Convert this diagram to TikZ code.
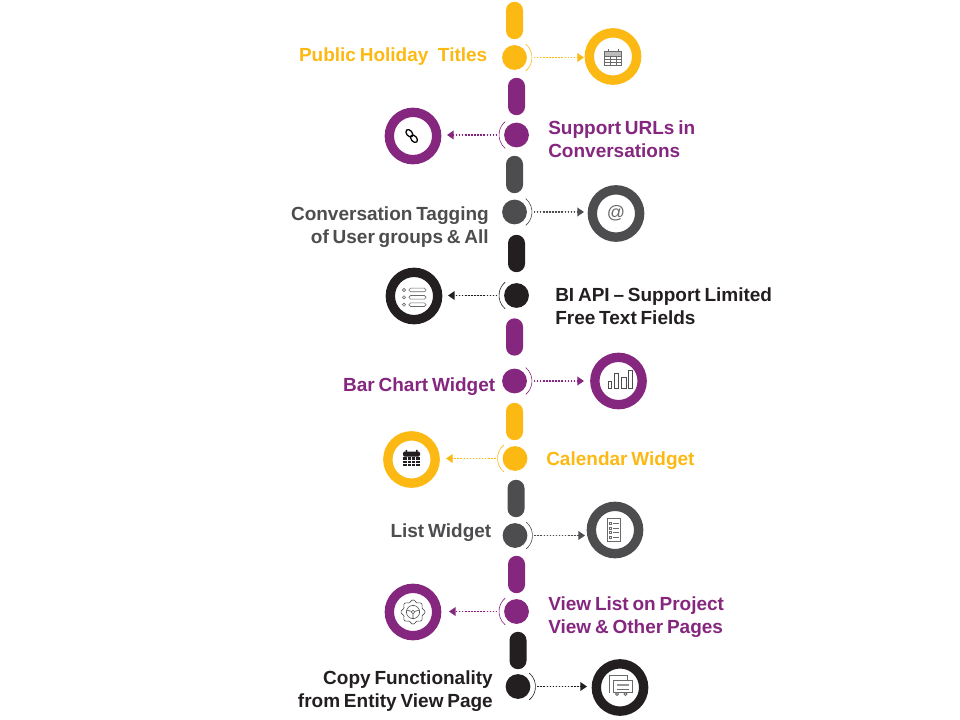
\documentclass[tikz,border=0pt]{standalone}
\usepackage{xcolor}
\usepackage{fontspec}
\setmainfont{Liberation Sans}[WordSpace=0.72]
\usetikzlibrary{calc}
\usetikzlibrary{arrows.meta}
\definecolor{tyellow}{HTML}{FDB913}
\definecolor{tpurple}{HTML}{85267F}
\definecolor{tgray}{HTML}{4D4D4F}
\definecolor{tdark}{HTML}{231F20}
\definecolor{ticon}{HTML}{6A6A6A}
\tikzset{
	pill/.style={rectangle,rounded corners=6.3pt,minimum width=12.75pt,minimum height=28pt,inner sep=0pt},
	dot/.style={circle,minimum size=18.6pt,inner sep=0pt},
	ring/.style={circle,draw,line width=7pt,fill=white,minimum size=35.5pt,inner sep=0pt},
	link/.style={dash pattern=on 1.1pt off 1.2pt,line width=1.1pt,shorten <=5pt,-{Triangle[length=5pt,width=6.5pt]}},
	bow/.style={line width=0.45pt},
	title/.style={font=\fontsize{14.25pt}{17.25pt}\selectfont\bfseries,inner sep=0pt},
	icon/.style={line width=0.45pt,draw=ticon},
}
\begin{document}
\begin{tikzpicture}[x=0.75pt,y=-0.75pt]
	\useasboundingbox (0,0) rectangle (960,720);
	\foreach \i/\x/\y/\col in {1/514.5/20.5/tyellow,2/516.5/96.5/tpurple,3/514.5/174.5/tgray,4/516.5/253.5/tdark,5/514.5/337/tpurple,6/514.5/421.5/tyellow,7/516/498.5/tgray,8/516.5/574.5/tpurple,9/518/650.5/tdark}
		\node[pill,fill=\col] (pill\i) at (\x,\y) {};
	\foreach \i/\x/\y/\tx/\col in {1/514.5/57.5/584/tyellow,3/514.5/212/584/tgray,5/514.5/381/584/tpurple,7/515/535.5/585/tgray,9/518/686.5/587/tdark}{
		\node[dot,fill=\col] (dot\i) at (\x,\y) {};
		\coordinate (tip\i) at (\tx,\y);
		\draw[link,draw=\col,fill=\col] (dot\i) -- (tip\i);
		\draw[bow,\col] ($(dot\i)+(-50:17.5)$) arc[start angle=-50,end angle=50,radius=17.5];
	}
	\foreach \i/\x/\y/\tx/\col in {2/516.5/135/447/tpurple,4/516.5/295.5/448/tdark,6/515/458.5/446/tyellow,8/516.5/611.5/449/tpurple}{
		\node[dot,fill=\col] (dot\i) at (\x,\y) {};
		\coordinate (tip\i) at (\tx,\y);
		\draw[link,draw=\col,fill=\col] (dot\i) -- (tip\i);
		\draw[bow,\col] ($(dot\i)+(130:17.5)$) arc[start angle=130,end angle=230,radius=17.5];
	}
	\node[ring,draw=tyellow] (ring1) at (613,56.5) {};
	\node[ring,draw=tpurple] (ring2) at (413,136) {};
	\node[ring,draw=tgray,text=ticon,font=\fontsize{13.5pt}{13.5pt}\selectfont] (ring3) at (616,213.5) {@};
	\node[ring,draw=tdark] (ring4) at (414,296) {};
	\node[ring,draw=tpurple] (ring5) at (618.5,381) {};
	\node[ring,draw=tyellow] (ring6) at (411.5,459.5) {};
	\node[ring,draw=tgray] (ring7) at (615,530) {};
	\node[ring,draw=tpurple] (ring8) at (413,612) {};
	\node[ring,draw=tdark] (ring9) at (620,687.5) {};
	\node[title,tyellow,anchor=east] (text1) at (487.5,56.5) {Public Holiday\hspace{0.3em} Titles};
	\node[title,tpurple,anchor=west,align=left] (text2) at (548,139.5) {Support URLs in\\Conversations};
	\node[title,tgray,anchor=east,align=right] (text3) at (489,227) {Conversation Tagging\\of User groups \& All};
	\node[title,tdark,anchor=west,align=left] (text4) at (555,306.5) {BI API -- Support Limited\\Free Text Fields};
	\node[title,tpurple,anchor=east] (text5) at (495.5,386.5) {Bar Chart Widget};
	\node[title,tyellow,anchor=west] (text6) at (546,460.5) {Calendar Widget};
	\node[title,tgray,anchor=east] (text7) at (491.5,532.5) {List Widget};
	\node[title,tpurple,anchor=west,align=left] (text8) at (548,617) {View List on Project\\View \& Other Pages};
	\node[title,tdark,anchor=east,align=right] (text9) at (493,691.5) {Copy Functionality\\from Entity View Page};
	\begin{scope}[shift={(ring1.center)},icon]
		\fill[ticon!45] (-8.3,-5) rectangle (8.3,-0.5);
		\draw (-8.3,-5) rectangle (8.3,8.5);
		\draw (-8.3,-0.5) -- (8.3,-0.5) (-8.3,2.5) -- (8.3,2.5) (-8.3,5.5) -- (8.3,5.5);
		\draw (-2.8,-0.5) -- (-2.8,8.5) (2.8,-0.5) -- (2.8,8.5);
		\draw (-5,-7) -- (-5,-4) (5,-7) -- (5,-4);
	\end{scope}
	\begin{scope}[shift={(ring2.center)},xshift=-1,line width=0.95pt,draw=black]
		\draw[rotate=-50] (-3.6,0) ellipse (4.2 and 2.8);
		\draw[rotate=-50] (3.6,0) ellipse (4.2 and 2.8);
	\end{scope}
	\begin{scope}[shift={(ring4.center)},icon]
		\foreach \y in {-6,1.3,8.7}{
			\draw (-10,\y) circle (1.6);
			\draw[rounded corners=1.2] (-5,\y-1.8) rectangle (12,\y+1.8);
		}
	\end{scope}
	\begin{scope}[shift={(ring5.center)},icon,draw=tgray]
		\draw (-10.2,0.7) rectangle (-6.8,7.3);
		\draw (-4.5,-8) rectangle (-0.2,7.3);
		\draw (3.2,-3.3) rectangle (7.5,7.3);
		\draw (9.5,-11) rectangle (13.5,7.3);
	\end{scope}
	\begin{scope}[shift={(ring6.center)},fill=tdark]
		\fill[rounded corners=1] (-8.5,-8) rectangle (8.5,-3);
		\fill (-6,-9.7) rectangle (-4.5,-6.5) (4.5,-9.7) rectangle (6,-6.5);
		\foreach \x in {-8.5,-4.25,0,4.25}
			\foreach \y in {-2.2,1,4.2}
				\fill (\x+0.3,\y) rectangle (\x+3.95,\y+2.5);
	\end{scope}
	\begin{scope}[shift={(ring7.center)},icon]
		\draw (-8,-12) rectangle (5,11);
		\foreach \y in {-7,-2,2.5,7}{
			\draw (-6,\y-1.2) rectangle (-3.5,\y+1.2);
			\draw (-2,\y) -- (3.5,\y);
		}
	\end{scope}
	\begin{scope}[shift={(ring8.center)},icon,draw=tgray]
		\draw plot[smooth cycle,samples=49,domain=0:352.5] (\x:{11+1.1*cos(8*\x)});
		\draw (0,0) circle (6.6);
		\draw (0,0) circle (1.7);
		\draw (-1.6,-0.6) -- (-6.3,-1.9) (1.6,-0.6) -- (6.3,-1.9) (0,1.7) -- (0,6.6);
	\end{scope}
	\begin{scope}[shift={(ring9.center)},icon,line width=0.6pt]
		\draw (-11,5) -- (-11,-12) -- (7,-12) -- (7,-7);
		\draw[fill=white] (-7,-7.3) rectangle (12,5.3);
		\fill[ticon!70] (-3.5,-4) rectangle (8.5,-1.5);
		\draw (-3.5,1.5) -- (8.5,1.5);
		\draw[fill=white] (-3,6.5) circle (1.5) (5.5,6.5) circle (1.5);
	\end{scope}
\end{tikzpicture}
\end{document}
